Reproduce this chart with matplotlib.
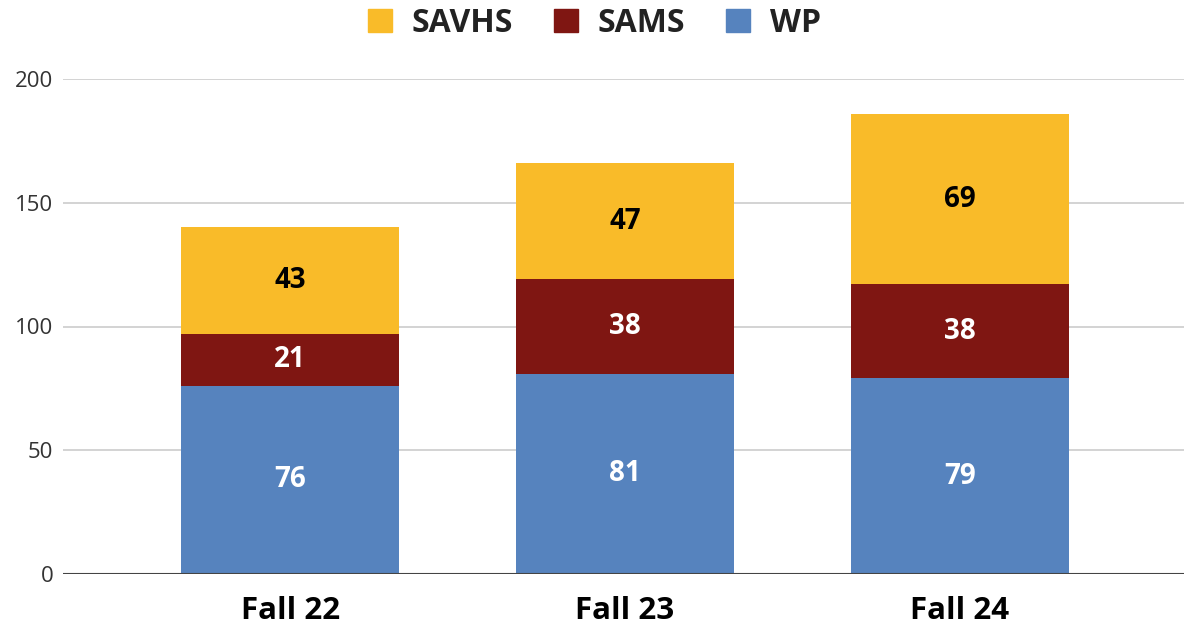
import numpy as np
import matplotlib.pyplot as plt
from matplotlib.patches import Patch

terms = ['Fall 22', 'Fall 23', 'Fall 24']
wp = [76, 81, 79]
sams = [21, 38, 38]
savhs = [43, 47, 69]

c_wp = '#5683be'
c_sams = '#7f1612'
c_savhs = '#f9bb29'

plt.rcParams['font.family'] = ['Open Sans', 'DejaVu Sans']

fig = plt.figure(figsize=(11.89, 6.28), dpi=100)
ax = fig.add_axes([63/1189, 54/628, (1184-63)/1189, 495/628])

x = np.arange(len(terms))
w = 0.65
wp = np.array(wp)
sams = np.array(sams)
savhs = np.array(savhs)

b1 = ax.bar(x, wp, w, color=c_wp, zorder=2)
b2 = ax.bar(x, sams, w, bottom=wp, color=c_sams, zorder=2)
b3 = ax.bar(x, savhs, w, bottom=wp + sams, color=c_savhs, zorder=2)

# value labels in the middle of each segment
for vals, bot, col in [(wp, np.zeros(3), 'white'), (sams, wp, 'white'),
                       (savhs, wp + sams, 'black')]:
    for i, v in enumerate(vals):
        ax.text(x[i], bot[i] + v / 2, str(v), ha='center', va='center',
                fontsize=20, fontweight='bold', color=col, zorder=3)

ax.set_xlim(-0.678, 2.669)
ax.set_ylim(0, 200)
ax.set_yticks([0, 50, 100, 150, 200])
ax.yaxis.grid(True, color='#cccccc', linewidth=1.2, zorder=0)
ax.set_axisbelow(True)
ax.axhline(0, color='#444444', linewidth=1.5, zorder=3)
for s in ax.spines.values():
    s.set_visible(False)
ax.tick_params(axis='y', length=0, labelsize=16, labelcolor='#333333', pad=7)
ax.tick_params(axis='x', length=0, pad=16)
ax.set_xticks(x)
ax.set_xticklabels(terms, fontsize=22.5, fontweight='bold', color='black')

handles = [Patch(color=c_savhs), Patch(color=c_sams), Patch(color=c_wp)]
fig.legend(handles, ['SAVHS', 'SAMS', 'WP'], loc='center', bbox_to_anchor=(0.5, 1 - 23/628),
           ncol=3, frameon=False, prop={'size': 23, 'weight': 'bold'},
           handlelength=0.75, handleheight=0.75, handletextpad=0.6, columnspacing=1.3,
           labelcolor='#222222')

fig.savefig('out.png', dpi=100)
